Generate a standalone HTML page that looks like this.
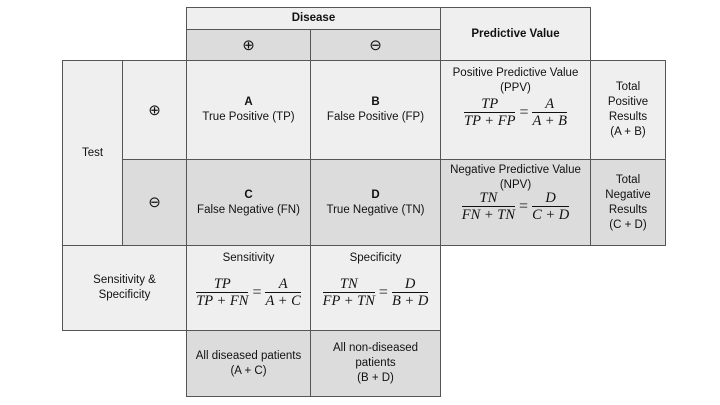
<!DOCTYPE html>
<html><head><style>
body{margin:0;width:720px;height:405px;background:#fff;font-family:"Liberation Sans",sans-serif;font-size:11.5px;color:#111;position:relative;overflow:hidden}
.c{position:absolute;box-sizing:border-box;border:1px solid #555;display:flex;flex-direction:column;align-items:center;justify-content:center;text-align:center;line-height:15px}
.l{background:#efefef}.d{background:#dcdcdc}
.f{display:inline-flex;flex-direction:column;align-items:center;font-family:"Liberation Serif",serif;font-style:italic;font-size:14.5px;line-height:16px;vertical-align:middle}
.f span:first-child{border-bottom:1.8px solid #111;padding:0 2px;align-self:stretch}
.eq{display:flex;align-items:center;gap:4px;font-family:"Liberation Serif",serif;font-size:16px}
.s{font-size:15px}
</style></head><body>
<div class="c l" style="left:186px;top:7px;width:255px;height:23px"><b>Disease</b></div>
<div class="c d s" style="left:186px;top:29px;width:125px;height:32px">⊕</div>
<div class="c d s" style="left:310px;top:29px;width:131px;height:32px">⊖</div>
<div class="c l" style="left:440px;top:7px;width:151px;height:54px"><b>Predictive Value</b></div>

<div class="c l" style="left:62px;top:60px;width:61px;height:186px">Test</div>
<div class="c l s" style="left:122px;top:60px;width:65px;height:100px">⊕</div>
<div class="c d s" style="left:122px;top:159px;width:65px;height:87px">⊖</div>
<div class="c l" style="left:186px;top:60px;width:125px;height:100px"><b>A</b>True Positive (TP)</div>
<div class="c l" style="left:310px;top:60px;width:131px;height:100px"><b>B</b>False Positive (FP)</div>
<div class="c d" style="left:186px;top:159px;width:125px;height:87px"><b>C</b>False Negative (FN)</div>
<div class="c d" style="left:310px;top:159px;width:131px;height:87px"><b>D</b>True Negative (TN)</div>

<div class="c l" style="left:440px;top:60px;width:151px;height:100px;justify-content:flex-start;padding-top:5px">Positive Predictive Value<br>(PPV)
<div class="eq"><span class="f"><span>TP</span><span>TP + FP</span></span>=<span class="f"><span>A</span><span>A + B</span></span></div></div>
<div class="c l" style="left:590px;top:60px;width:76px;height:100px">Total<br>Positive<br>Results<br>(A + B)</div>
<div class="c d" style="left:440px;top:159px;width:151px;height:87px;justify-content:flex-start;padding-top:3px">Negative Predictive Value<br>(NPV)
<div class="eq" style="margin-top:-3px"><span class="f"><span>TN</span><span>FN + TN</span></span>=<span class="f"><span>D</span><span>C + D</span></span></div></div>
<div class="c d" style="left:590px;top:159px;width:76px;height:87px">Total<br>Negative<br>Results<br>(C + D)</div>

<div class="c l" style="left:62px;top:245px;width:125px;height:86px">Sensitivity &amp;<br>Specificity</div>
<div class="c l" style="left:186px;top:245px;width:125px;height:86px;justify-content:flex-start;padding-top:5px">Sensitivity
<div class="eq" style="margin-top:10px"><span class="f"><span>TP</span><span>TP + FN</span></span>=<span class="f"><span>A</span><span>A + C</span></span></div></div>
<div class="c l" style="left:310px;top:245px;width:131px;height:86px;justify-content:flex-start;padding-top:5px">Specificity
<div class="eq" style="margin-top:10px"><span class="f"><span>TN</span><span>FP + TN</span></span>=<span class="f"><span>D</span><span>B + D</span></span></div></div>
<div class="c d" style="left:186px;top:330px;width:125px;height:67px">All diseased patients<br>(A + C)</div>
<div class="c d" style="left:310px;top:330px;width:131px;height:67px">All non-diseased<br>patients<br>(B + D)</div>
</body></html>
